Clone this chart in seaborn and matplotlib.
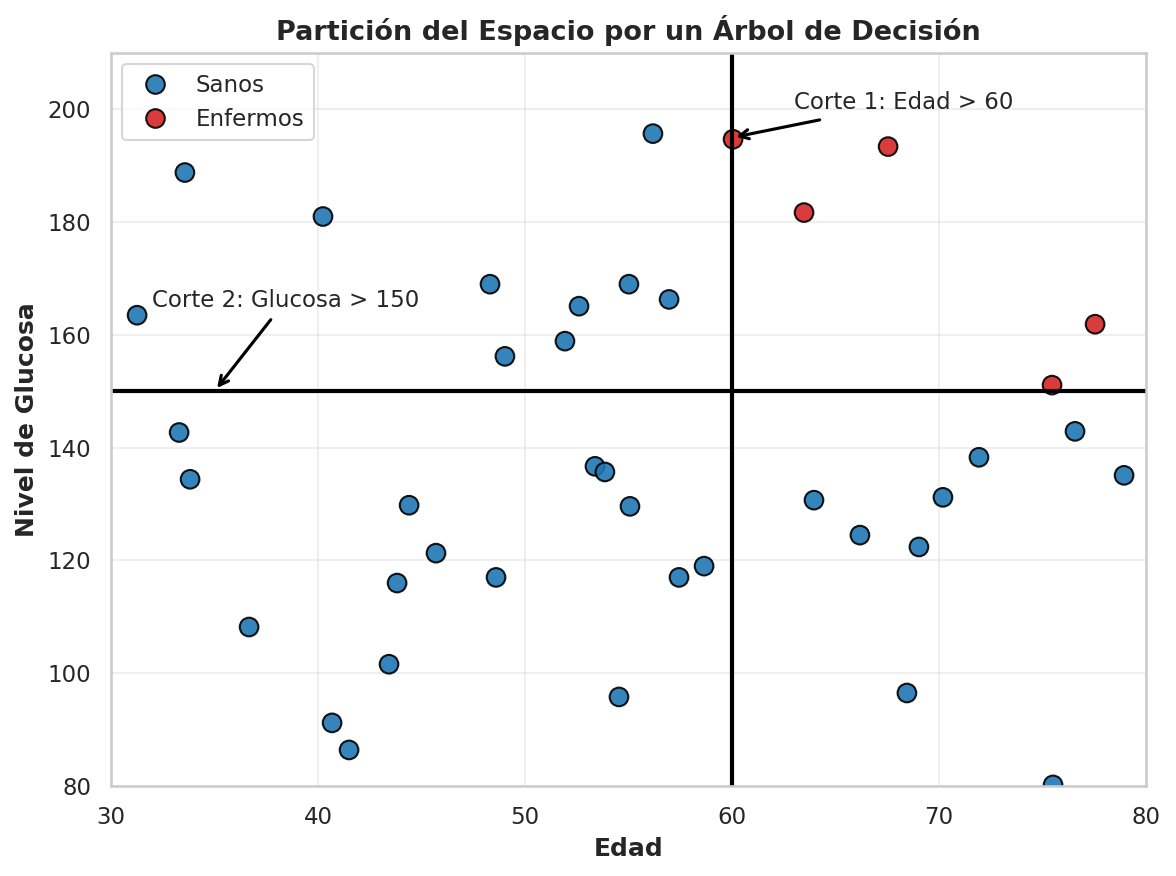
import matplotlib
matplotlib.use("Agg")
import matplotlib.pyplot as plt
import pandas as pd
import seaborn as sns

sns.set_theme(style="whitegrid")
plt.rcParams['font.family'] = ['DejaVu Sans']

# datos
edad = [33.57, 40.24, 31.26, 33.29, 33.82, 36.67, 40.68, 41.50, 43.43, 43.82,
        44.40, 45.70, 48.31, 49.03, 48.60, 51.93, 52.61, 53.38, 53.86, 55.02,
        55.07, 56.18, 56.96, 54.54, 57.44, 58.65, 63.96, 66.18, 68.45, 69.03,
        70.19, 71.93, 76.57, 78.94, 75.51,
        60.05, 63.48, 67.54, 75.46, 77.54]
glucosa = [188.8, 181.0, 163.5, 142.7, 134.4, 108.2, 91.2, 86.4, 101.6, 116.0,
           129.8, 121.3, 169.0, 156.2, 117.0, 158.9, 165.1, 136.7, 135.7, 169.0,
           129.6, 195.7, 166.3, 95.8, 117.0, 119.0, 130.7, 124.5, 96.5, 122.4,
           131.2, 138.3, 142.9, 135.1, 80.2,
           194.7, 181.7, 193.4, 151.1, 161.9]
estado = ["Sanos"] * 35 + ["Enfermos"] * 5

df = pd.DataFrame({"Edad": edad, "Glucosa": glucosa, "Estado": estado})

fig, ax = plt.subplots(figsize=(7.84, 5.84), dpi=150)
sns.scatterplot(data=df, x="Edad", y="Glucosa", hue="Estado",
                hue_order=["Sanos", "Enfermos"],
                palette={"Sanos": "#1f77b4", "Enfermos": "#d62728"},
                s=80, alpha=0.9, edgecolor="black", linewidth=1, ax=ax)

# cortes del árbol
ax.axvline(60, color="black", linewidth=2)
ax.axhline(150, color="black", linewidth=2)

ax.annotate("Corte 1: Edad > 60", xy=(60, 195), xytext=(63, 200),
            fontsize=11, arrowprops=dict(arrowstyle="->", color="black", lw=1.5))
ax.annotate("Corte 2: Glucosa > 150", xy=(35, 150), xytext=(32, 165),
            fontsize=11, arrowprops=dict(arrowstyle="->", color="black", lw=1.5))

ax.set_xlim(30, 80)
ax.set_ylim(80, 210)
ax.set_title("Partición del Espacio por un Árbol de Decisión", fontsize=13, fontweight="bold")
ax.set_xlabel("Edad", fontsize=12, fontweight="bold")
ax.set_ylabel("Nivel de Glucosa", fontsize=12, fontweight="bold")
ax.grid(True, alpha=0.3)
ax.legend(loc="upper left", fontsize=11)

fig.subplots_adjust(left=0.0944, right=0.9745, top=0.9395, bottom=0.1027)
fig.savefig("out.png", dpi=150)
